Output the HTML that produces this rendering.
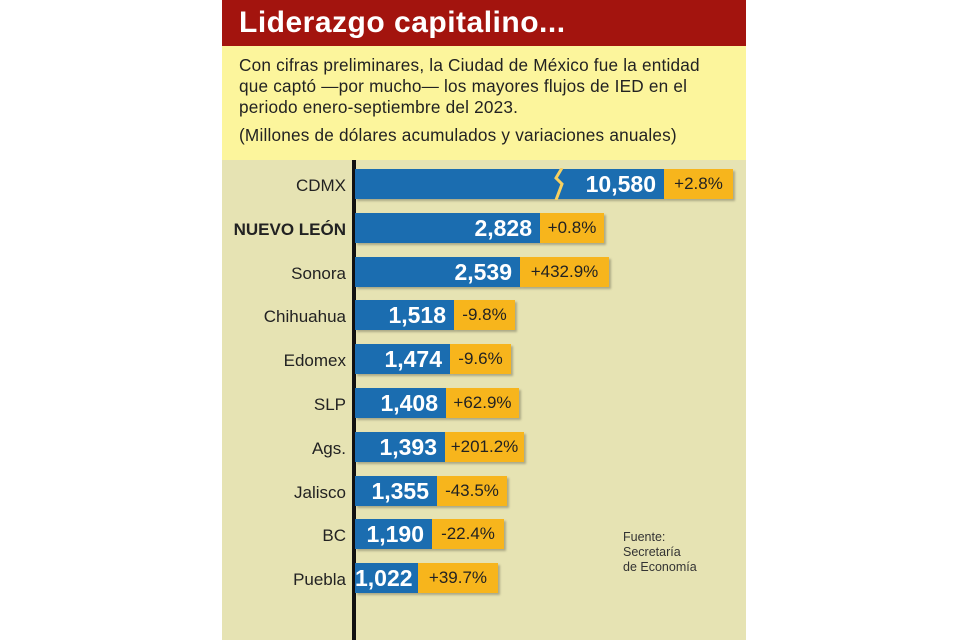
<!DOCTYPE html>
<html><head><meta charset="utf-8"><style>
body{margin:0;width:960px;height:640px;background:#fff;position:relative;overflow:hidden;font-family:"Liberation Sans",sans-serif}
#p{position:absolute;left:222px;top:0;width:524px;height:640px;background:#e6e3b3}
#t{position:absolute;left:0;top:0;width:524px;height:46px;background:#a3140e;color:#fff;font-weight:bold;font-size:30px;letter-spacing:0.5px;line-height:46px;padding-left:17px;box-sizing:border-box}
#y{position:absolute;left:0;top:46px;width:524px;height:114px;background:#fcf59c;color:#222;font-size:17.2px;letter-spacing:0.2px;line-height:21px;padding:9px 0 0 17px;box-sizing:border-box;white-space:nowrap}
#ax{position:absolute;left:130px;top:160px;width:4px;height:480px;background:#111}
.l{position:absolute;right:400px;font-size:17px;color:#222;text-align:right;white-space:nowrap}
.b{position:absolute;left:133px;height:30px;background:#1b6db0;color:#fff;font-weight:bold;font-size:23px;line-height:30px;text-align:right;box-sizing:border-box;padding-right:8px;box-shadow:2px 2px 2px rgba(0,0,0,.25)}
.o{position:absolute;height:30px;background:#f7b51c;color:#222;font-size:17px;line-height:30px;text-align:center;box-shadow:2px 2px 2px rgba(0,0,0,.25)}
</style></head><body><div id="p">
<div id="t">Liderazgo capitalino...</div>
<div id="y">Con cifras preliminares, la Ciudad de México fue la entidad<br>que captó —por mucho— los mayores flujos de IED en el<br>periodo enero-septiembre del 2023.<div style="margin-top:7px">(Millones de dólares acumulados y variaciones anuales)</div></div>
<div id="ax"></div>
<div style="position:absolute;left:401px;top:530px;font-size:12.5px;line-height:15px;color:#333">Fuente:<br>Secretaría<br>de Economía</div>
</div>
<script>
var d=[["CDMX","10,580","+2.8%",664,733],["<b>NUEVO LEÓN</b>","2,828","+0.8%",540,604],["Sonora","2,539","+432.9%",520,609],["Chihuahua","1,518","-9.8%",454,515],["Edomex","1,474","-9.6%",450,511],["SLP","1,408","+62.9%",446,519],["Ags.","1,393","+201.2%",445,524],["Jalisco","1,355","-43.5%",437,507],["BC","1,190","-22.4%",432,504],["Puebla","1,022","+39.7%",418,498]];
var p=document.getElementById('p'),h='';
d.forEach(function(r,i){var c=184+i*43.8,top=c-15;
h+='<div class="l" style="top:'+(c-8)+'px">'+r[0]+'</div>';
h+='<div class="b" style="top:'+top+'px;width:'+(r[3]-355)+'px">'+r[1]+'</div>';
h+='<div class="o" style="top:'+top+'px;left:'+(r[3]-222)+'px;width:'+(r[4]-r[3])+'px">'+r[2]+'</div>';});
h+='<svg style="position:absolute;left:330px;top:168px" width="16" height="32"><path d="M10 0 L4 10 L10 16 L4 32" stroke="#f7d060" stroke-width="3" fill="none"/></svg>';
p.insertAdjacentHTML('beforeend',h);
</script>
</body></html>
